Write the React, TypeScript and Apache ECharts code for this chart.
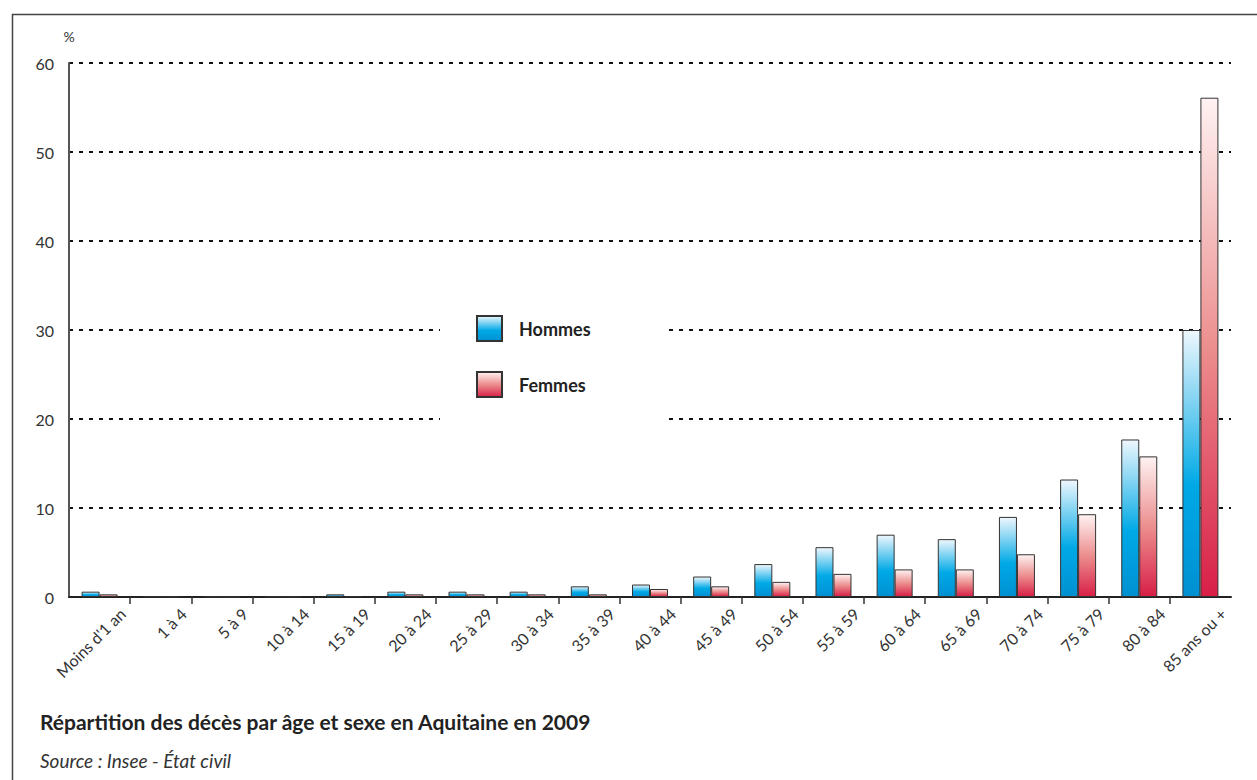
import React, { useEffect, useRef } from "react";
import * as echarts from "echarts";

const categories = [
  "Moins d'1 an", "1 à 4", "5 à 9", "10 à 14", "15 à 19", "20 à 24", "25 à 29",
  "30 à 34", "35 à 39", "40 à 44", "45 à 49", "50 à 54", "55 à 59", "60 à 64",
  "65 à 69", "70 à 74", "75 à 79", "80 à 84", "85 ans ou +",
];
const hommes = [0.6, 0.05, 0.02, 0.03, 0.3, 0.6, 0.6, 0.6, 1.2, 1.4, 2.3, 3.7, 5.6, 7.0, 6.5, 9.0, 13.2, 17.7, 30.0];
const femmes = [0.3, 0.02, 0.01, 0.02, 0.1, 0.3, 0.3, 0.3, 0.3, 0.9, 1.2, 1.7, 2.6, 3.1, 3.1, 4.8, 9.3, 15.8, 56.1];
const yTicks = { min: 0, max: 60, interval: 10 };
const titleText = "Répartition des décès par âge et sexe en Aquitaine en 2009";
const sourceText = "Source : Insee - État civil";

const FONT = "Lato, 'Open Sans', sans-serif";

export default function App() {
  const ref = useRef<HTMLDivElement>(null);
  useEffect(() => {
    document.body.style.margin = "0";
    const chart = echarts.init(ref.current!, null, { renderer: "svg" });
    const blueGrad = new echarts.graphic.LinearGradient(0, 0, 0, 1, [
      { offset: 0, color: "#eef7fd" },
      { offset: 0.58, color: "#00a9e6" },
      { offset: 1, color: "#0090d2" },
    ]);
    const redGrad = new echarts.graphic.LinearGradient(0, 0, 0, 1, [
      { offset: 0, color: "#fff2f2" },
      { offset: 0.5, color: "#ec8e8e" },
      { offset: 1, color: "#d81f47" },
    ]);
    chart.setOption({
      animation: false,
      backgroundColor: "#fff",
      textStyle: { fontFamily: FONT },
      title: [
        {
          text: titleText,
          left: 35,
          top: 706,
          textStyle: { fontFamily: FONT, fontSize: 21, fontWeight: "bold", color: "#222" },
        },
        {
          text: sourceText,
          left: 35,
          top: 746,
          textStyle: { fontFamily: FONT, fontSize: 19, fontWeight: "normal", fontStyle: "italic", color: "#333" },
        },
      ],
      legend: {
        data: ["Hommes", "Femmes"],
        orient: "vertical",
        left: 440,
        top: 300,
        padding: [15, 73, 46, 36],
        itemWidth: 25,
        itemHeight: 25,
        itemGap: 29,
        backgroundColor: "#fff",
        icon: "rect",
        textStyle: { fontFamily: FONT, fontSize: 18, fontWeight: "bold", color: "#222", padding: [0, 0, 0, 12] },
      },
      grid: { left: 69, right: 26, top: 63, bottom: 183, containLabel: false },
      xAxis: [
        {
          type: "category",
          data: categories,
          axisLine: { show: true, onZero: false, lineStyle: { color: "#222", width: 2 } },
          axisTick: { show: false },
          axisLabel: { show: false },
          splitLine: { show: false },
        },
        {
          type: "category",
          position: "bottom",
          boundaryGap: false,
          data: ["", ...categories],
          axisLine: { show: false, onZero: false },
          axisTick: {
            show: true,
            length: 7,
            interval: (i: number) => i >= 1 && i <= categories.length - 1,
            lineStyle: { color: "#333", width: 1.5 },
          },
          axisLabel: {
            interval: 0,
            rotate: 45,
            margin: 6,
            padding: [0, 11, 0, 0],
            fontFamily: FONT,
            fontSize: 16,
            color: "#333",
          },
          splitLine: { show: false },
        },
      ],
      yAxis: {
        type: "value",
        min: yTicks.min,
        max: yTicks.max,
        interval: yTicks.interval,
        name: "%",
        nameLocation: "end",
        nameGap: 20,
        nameTextStyle: { fontFamily: FONT, fontSize: 14, color: "#333", align: "center" },
        axisLine: { show: true, lineStyle: { color: "#555", width: 2 } },
        axisTick: { show: false },
        axisLabel: { margin: 15, fontFamily: FONT, fontSize: 16, color: "#333" },
        splitLine: { show: true, lineStyle: { color: "#111", width: 2, type: [4, 6] } },
      },
      graphic: [
        {
          type: "rect",
          left: 10,
          top: 12,
          shape: { width: 1300, height: 820 },
          style: { fill: "none", stroke: "#444", lineWidth: 1.5 },
          silent: true,
          z: 0,
        },
      ],
      series: [
        {
          name: "Hommes",
          type: "bar",
          xAxisIndex: 0,
          data: hommes,
          barWidth: 18,
          barGap: "0%",
          itemStyle: { color: blueGrad, borderColor: "#333", borderWidth: 1 },
        },
        {
          name: "Femmes",
          type: "bar",
          xAxisIndex: 0,
          data: femmes,
          barWidth: 18,
          barGap: "0%",
          itemStyle: { color: redGrad, borderColor: "#333", borderWidth: 1 },
        },
      ],
    });
    return () => chart.dispose();
  }, []);
  return <div ref={ref} style={{ width: 1257, height: 780 }} />;
}
